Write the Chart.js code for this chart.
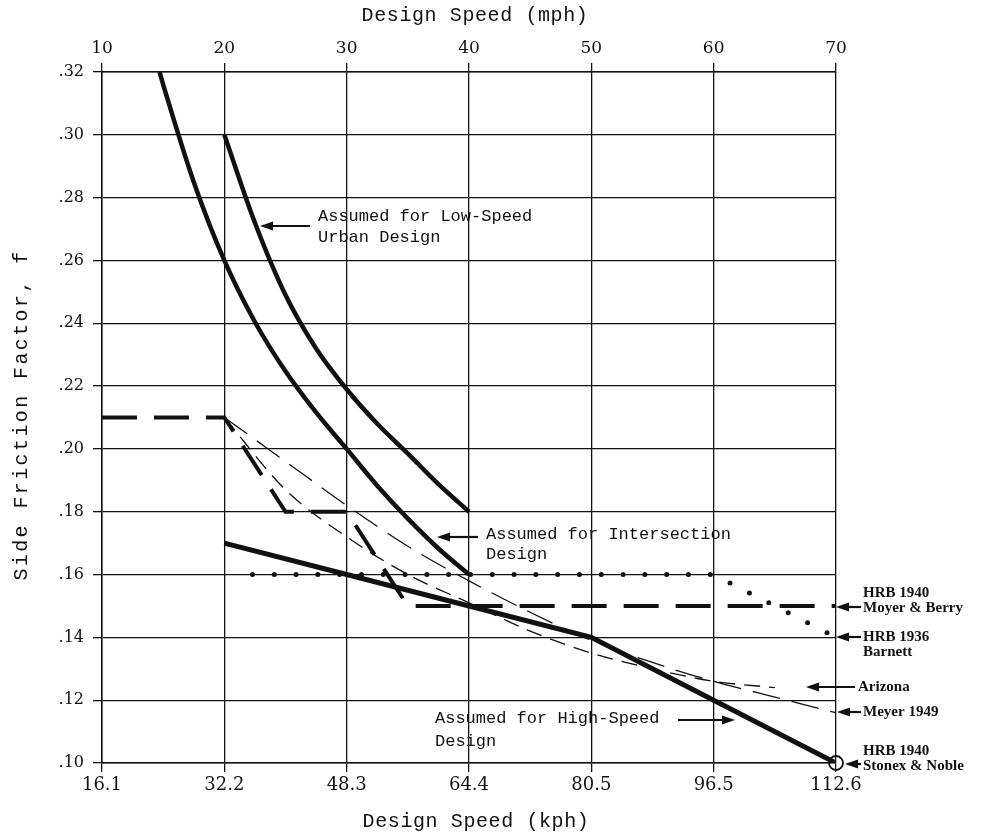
<!DOCTYPE html>
<html>
<head>
<meta charset="utf-8">
<script src="https://cdn.jsdelivr.net/npm/chart.js@4"></script>
<style>
  html, body { margin: 0; padding: 0; background: #fff; }
  canvas { display: block; }
</style>
</head>
<body>
<canvas id="frictionChart" width="981" height="836"></canvas>
<script>
const mphTicks = [10, 20, 30, 40, 50, 60, 70];
const kphLabels = ["16.1", "32.2", "48.3", "64.4", "80.5", "96.5", "112.6"];

// values, speed in mph, f = side friction factor
const lowSpeedMph = [20, 22.5, 25, 27.5, 30, 32.5, 35, 37.5, 40];
const lowSpeedF = [0.30, 0.272, 0.249, 0.232, 0.219, 0.208, 0.1985, 0.1888, 0.18];

const intersectionMph = [14.7, 15, 17.5, 20, 22.5, 25, 27.5, 30, 32.5, 35, 37.5, 40];
const intersectionF = [0.32, 0.316, 0.285, 0.26, 0.2404, 0.2247, 0.2116, 0.20, 0.1883, 0.1778, 0.1683, 0.16];

const highSpeedMph = [20, 30, 40, 50, 60, 70];
const highSpeedF = [0.17, 0.16, 0.15, 0.14, 0.12, 0.10];

const moyerMph = [10, 20, 25, 30, 35, 70];
const moyerF = [0.21, 0.21, 0.18, 0.18, 0.15, 0.15];

const barnettMph = [22.3, 60, 70];
const barnettF = [0.16, 0.16, 0.14];

const arizonaMph = [20, 25, 30, 35, 40, 45, 50, 55, 60, 65];
const arizonaF = [0.21, 0.187, 0.172, 0.16, 0.151, 0.142, 0.135, 0.13, 0.126, 0.124];

const meyerMph = [20, 25, 30, 35, 40, 45, 50, 55, 60, 65, 70];
const meyerF = [0.21, 0.196, 0.182, 0.169, 0.158, 0.148, 0.139, 0.132, 0.126, 0.121, 0.116];

const stonexMph = [70];
const stonexF = [0.10];

const INK = "#111";
const MONO = "'Liberation Mono', 'DejaVu Sans Mono', monospace";
const SERIF = "'DejaVu Serif', serif";

function pts(xs, ys) {
  return xs.map((x, i) => ({ x: x, y: ys[i] }));
}

function arrow(ctx, x1, y1, x2, y2) {
  const a = Math.atan2(y2 - y1, x2 - x1);
  const len = 13, half = 4.5;
  ctx.beginPath();
  ctx.moveTo(x1, y1);
  ctx.lineTo(x2 - Math.cos(a) * len * 0.8, y2 - Math.sin(a) * len * 0.8);
  ctx.lineWidth = 2.2;
  ctx.stroke();
  ctx.beginPath();
  ctx.moveTo(x2, y2);
  ctx.lineTo(x2 - Math.cos(a) * len - Math.sin(a) * half, y2 - Math.sin(a) * len + Math.cos(a) * half);
  ctx.lineTo(x2 - Math.cos(a) * len + Math.sin(a) * half, y2 - Math.sin(a) * len - Math.cos(a) * half);
  ctx.closePath();
  ctx.fill();
}

const paperPlugin = {
  id: "paper",
  beforeDraw(chart) {
    const ctx = chart.ctx;
    ctx.save();
    ctx.fillStyle = "#fff";
    ctx.fillRect(0, 0, chart.width, chart.height);
    ctx.restore();
  },
  afterDraw(chart) {
    const ctx = chart.ctx;
    ctx.save();
    ctx.fillStyle = INK;
    ctx.strokeStyle = INK;

    // axis titles
    ctx.font = "20px " + MONO;
    ctx.letterSpacing = "0.6px";
    ctx.textAlign = "center";
    ctx.textBaseline = "middle";
    ctx.fillText("Design Speed (mph)", 475, 16);
    ctx.fillText("Design Speed (kph)", 476, 822);
    ctx.save();
    ctx.translate(22, 415);
    ctx.rotate(-Math.PI / 2);
    ctx.letterSpacing = "2.4px";
    ctx.fillText("Side Friction Factor, f", 0, 0);
    ctx.restore();

    // curve notes
    ctx.font = "17px " + MONO;
    ctx.letterSpacing = "0px";
    ctx.textAlign = "left";
    ctx.fillText("Assumed for Low-Speed", 318, 216);
    ctx.fillText("Urban Design", 318, 237);
    arrow(ctx, 310, 226, 260, 226);

    ctx.fillText("Assumed for Intersection", 486, 534);
    ctx.fillText("Design", 486, 554);
    arrow(ctx, 478, 537, 437, 537);

    ctx.fillText("Assumed for High-Speed", 435, 718);
    ctx.fillText("Design", 435, 741);
    arrow(ctx, 678, 720, 735, 720);

    // source labels on the right
    ctx.font = "bold 15px 'Liberation Serif', serif";
    ctx.fillText("HRB 1940", 863, 593);
    ctx.fillText("Moyer & Berry", 863, 608);
    arrow(ctx, 861, 607, 836, 607);

    ctx.fillText("HRB 1936", 863, 637);
    ctx.fillText("Barnett", 863, 652);
    arrow(ctx, 861, 637, 836, 637);

    ctx.fillText("Arizona", 858, 687);
    arrow(ctx, 855, 687, 806, 687);

    ctx.fillText("Meyer 1949", 863, 712);
    arrow(ctx, 861, 712, 837, 712);

    ctx.fillText("HRB 1940", 863, 751);
    ctx.fillText("Stonex & Noble", 863, 766);
    arrow(ctx, 861, 764, 845, 764);

    ctx.restore();
  }
};

const gridStyle = { color: INK, lineWidth: 1.3, tickLength: 9, tickColor: INK };

new Chart(document.getElementById("frictionChart").getContext("2d"), {
  type: "line",
  data: {
    datasets: [
      {
        label: "Low-Speed Urban",
        data: pts(lowSpeedMph, lowSpeedF),
        borderColor: INK,
        borderWidth: 4.5,
        cubicInterpolationMode: "monotone",
        pointRadius: 0,
      },
      {
        label: "Intersection",
        data: pts(intersectionMph, intersectionF),
        borderColor: INK,
        borderWidth: 4.5,
        cubicInterpolationMode: "monotone",
        pointRadius: 0,
      },
      {
        label: "High-Speed",
        data: pts(highSpeedMph, highSpeedF),
        borderColor: INK,
        borderWidth: 5,
        tension: 0,
        pointRadius: 0,
      },
      {
        label: "HRB 1940 Moyer & Berry",
        data: pts(moyerMph, moyerF),
        borderColor: INK,
        borderWidth: 4,
        borderDash: [35, 17],
        tension: 0,
        pointRadius: 0,
      },
      {
        label: "HRB 1936 Barnett",
        data: pts(barnettMph, barnettF),
        borderColor: INK,
        borderWidth: 5,
        borderDash: [0, 21.8],
        borderCapStyle: "round",
        tension: 0,
        pointRadius: 0,
      },
      {
        label: "Arizona",
        data: pts(arizonaMph, arizonaF),
        borderColor: INK,
        borderWidth: 1.3,
        borderDash: [16, 9],
        cubicInterpolationMode: "monotone",
        pointRadius: 0,
      },
      {
        label: "Meyer 1949",
        data: pts(meyerMph, meyerF),
        borderColor: INK,
        borderWidth: 1.3,
        borderDash: [28, 12],
        cubicInterpolationMode: "monotone",
        pointRadius: 0,
      },
      {
        label: "HRB 1940 Stonex & Noble",
        data: pts(stonexMph, stonexF),
        showLine: false,
        clip: false,
        pointRadius: 7,
        pointBorderWidth: 1.8,
        pointBorderColor: INK,
        pointBackgroundColor: "rgba(255,255,255,0)",
      },
    ],
  },
  options: {
    responsive: false,
    animation: false,
    layout: { padding: { left: 0, right: 145, top: 0, bottom: 0 } },
    plugins: {
      legend: { display: false },
      tooltip: { enabled: false },
    },
    scales: {
      x: {
        type: "linear",
        position: "bottom",
        min: 10,
        max: 70,
        afterFit: (s) => { s.height = 73; },
        afterBuildTicks: (s) => { s.ticks = mphTicks.map((v) => ({ value: v })); },
        ticks: {
          color: INK,
          padding: 3,
          maxRotation: 0,
          font: { family: SERIF, size: 18 },
          callback: (v) => kphLabels[mphTicks.indexOf(v)] || "",
        },
        grid: gridStyle,
        border: { color: INK, width: 1.5 },
      },
      x2: {
        type: "linear",
        position: "top",
        min: 10,
        max: 70,
        afterFit: (s) => { s.height = 72; },
        afterBuildTicks: (s) => { s.ticks = mphTicks.map((v) => ({ value: v })); },
        ticks: {
          color: INK,
          padding: 4,
          maxRotation: 0,
          font: { family: SERIF, size: 17 },
        },
        grid: { ...gridStyle, drawOnChartArea: false },
        border: { color: INK, width: 1.5 },
      },
      y: {
        min: 0.10,
        max: 0.32,
        afterFit: (s) => { s.width = 102; },
        ticks: {
          stepSize: 0.02,
          color: INK,
          padding: 9,
          font: { family: SERIF, size: 16 },
          callback: (v) => v.toFixed(2).replace(/^0/, ""),
        },
        grid: gridStyle,
        border: { color: INK, width: 1.5 },
      },
    },
  },
  plugins: [paperPlugin],
});
</script>
</body>
</html>
